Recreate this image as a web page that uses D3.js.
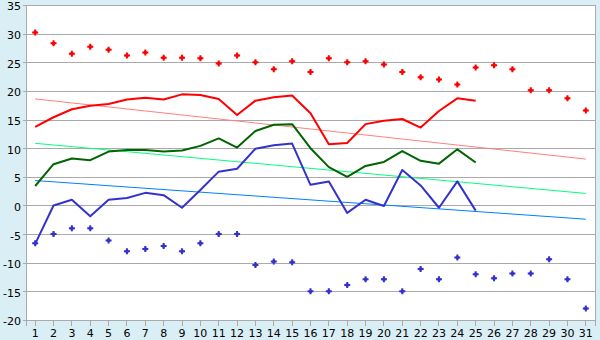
<!DOCTYPE html>
<html>
<head>
<meta charset="utf-8">
<script src="https://cdn.jsdelivr.net/npm/d3@7"></script>
<style>
    body { margin: 0; background: #daeff5; }
    svg { display: block; }
    .tick text { font-family: "DejaVu Sans", Verdana, sans-serif; font-size: 11px; fill: #000; }
</style>
</head>
<body>
<svg id="chart" width="600" height="340"></svg>
<script>
// days of the month
var days = [1, 2, 3, 4, 5, 6, 7, 8, 9, 10, 11, 12, 13, 14, 15, 16,
            17, 18, 19, 20, 21, 22, 23, 24, 25, 26, 27, 28, 29, 30, 31];

// record max / min per day (markers)
var maxMarks = [30.2, 28.3, 26.5, 27.7, 27.2, 26.2, 26.7, 25.8, 25.8, 25.7, 24.8, 26.2, 25.0, 23.8, 25.2, 23.3,
                25.7, 25.0, 25.2, 24.6, 23.3, 22.4, 22.0, 21.1, 24.1, 24.5, 23.8, 20.1, 20.1, 18.7, 16.6];
var minMarks = [-6.6, -5.0, -4.0, -4.0, -6.1, -8.0, -7.6, -7.1, -8.0, -6.6, -5.0, -5.0, -10.4, -9.8, -9.9, -15.0,
                -15.0, -13.9, -12.9, -12.9, -15.0, -11.1, -12.9, -9.1, -12.0, -12.7, -11.9, -11.9, -9.4, -12.9, -18.0];

// this month so far (days 1..25)
var maxLine = [13.7, 15.4, 16.8, 17.4, 17.7, 18.5, 18.8, 18.5, 19.4, 19.3, 18.6, 15.8, 18.3, 18.9, 19.2, 16.1,
               10.7, 10.9, 14.2, 14.8, 15.1, 13.6, 16.5, 18.7, 18.3];
var meanLine = [3.4, 7.2, 8.2, 7.9, 9.4, 9.7, 9.7, 9.4, 9.6, 10.4, 11.7, 10.1, 13.0, 14.1, 14.2, 10.0,
                6.7, 5.0, 6.9, 7.6, 9.5, 7.8, 7.3, 9.8, 7.5];
var minLine = [-6.7, 0.0, 1.0, -1.9, 1.0, 1.3, 2.2, 1.8, -0.4, 2.7, 5.9, 6.4, 9.9, 10.5, 10.8, 3.6,
               4.2, -1.3, 1.0, -0.1, 6.2, 3.5, -0.4, 4.2, -0.9];

// normals (start of month, end of month)
var trendDays = [1, 31];
var maxTrend = [18.6, 8.1];
var meanTrend = [10.85, 2.1];
var minTrend = [4.35, -2.4];

var yTicks = [-20, -15, -10, -5, 0, 5, 10, 15, 20, 25, 30, 35];

var margin = {top: 5, right: 5, bottom: 20, left: 26};
var svg = d3.select("#chart");
var width = 600 - margin.left - margin.right,
    height = 340 - margin.top - margin.bottom;

var g = svg.append("g")
    .attr("transform", "translate(" + margin.left + "," + margin.top + ")");

var x = d3.scaleBand().domain(days).range([0, width]).padding(0);
var y = d3.scaleLinear().domain([-20, 35]).range([height, 0]);
var cx = function(d) { return x(d) + x.bandwidth() / 2; };

g.append("rect")
    .attr("width", width)
    .attr("height", height)
    .attr("fill", "#fff");

// grid
var grid = g.append("g")
    .call(d3.axisLeft(y).tickValues(yTicks).tickSize(-width).tickFormat(""));
grid.select(".domain").remove();
grid.selectAll(".tick line").attr("stroke", "#aaa").attr("shape-rendering", "crispEdges");

// y axis - plain hyphen for negatives like the original
var yAxis = g.append("g")
    .call(d3.axisLeft(y).tickValues(yTicks).tickSize(3).tickPadding(2)
        .tickFormat(function(d) { return String(d); }));
yAxis.select(".domain").attr("stroke", "#aaa").attr("shape-rendering", "crispEdges");
yAxis.selectAll(".tick line").attr("stroke", "#aaa").attr("shape-rendering", "crispEdges");
yAxis.selectAll(".tick text").attr("dy", "0.45em");

// right border
g.append("line")
    .attr("x1", width).attr("x2", width)
    .attr("y1", 0).attr("y2", height)
    .attr("stroke", "#aaa")
    .attr("shape-rendering", "crispEdges");

// x axis
var xAxis = g.append("g")
    .attr("transform", "translate(0," + height + ")")
    .call(d3.axisBottom(x).tickSize(6).tickPadding(3));
xAxis.select(".domain").attr("stroke", "#aaa").attr("shape-rendering", "crispEdges");
xAxis.selectAll(".tick line").attr("stroke", "#aaa").attr("shape-rendering", "crispEdges");

var line = d3.line()
    .x(function(d) { return cx(d[0]); })
    .y(function(d) { return y(d[1]); });

function drawLine(values, xs, color, w) {
    g.append("path")
        .datum(values.map(function(v, i) { return [xs[i], v]; }))
        .attr("fill", "none")
        .attr("stroke", color)
        .attr("stroke-width", w)
        .attr("stroke-linejoin", "round")
        .attr("d", line);
}

// trend lines
drawLine(maxTrend, trendDays, "#ff8080", 1);
drawLine(meanTrend, trendDays, "#00ff80", 1);
drawLine(minTrend, trendDays, "#0080ff", 1);

// this month
drawLine(maxLine, days, "#ff0000", 2);
drawLine(meanLine, days, "#006400", 2);
drawLine(minLine, days, "#3333cc", 2);

// marker: small plus with a fat centre
var cross = d3.symbol().type(d3.symbolCross).size(20);
var dot = d3.symbol().type(d3.symbolSquare).size(9);

function drawMarks(values, color) {
    var m = g.append("g").selectAll("g")
        .data(values)
        .join("g")
        .attr("transform", function(d, i) { return "translate(" + cx(days[i]) + "," + y(d) + ")"; })
        .attr("fill", color);
    m.append("path").attr("d", cross);
    m.append("path").attr("d", dot);
}

drawMarks(maxMarks, "#ff0000");
drawMarks(minMarks, "#3333cc");
</script>
</body>
</html>
